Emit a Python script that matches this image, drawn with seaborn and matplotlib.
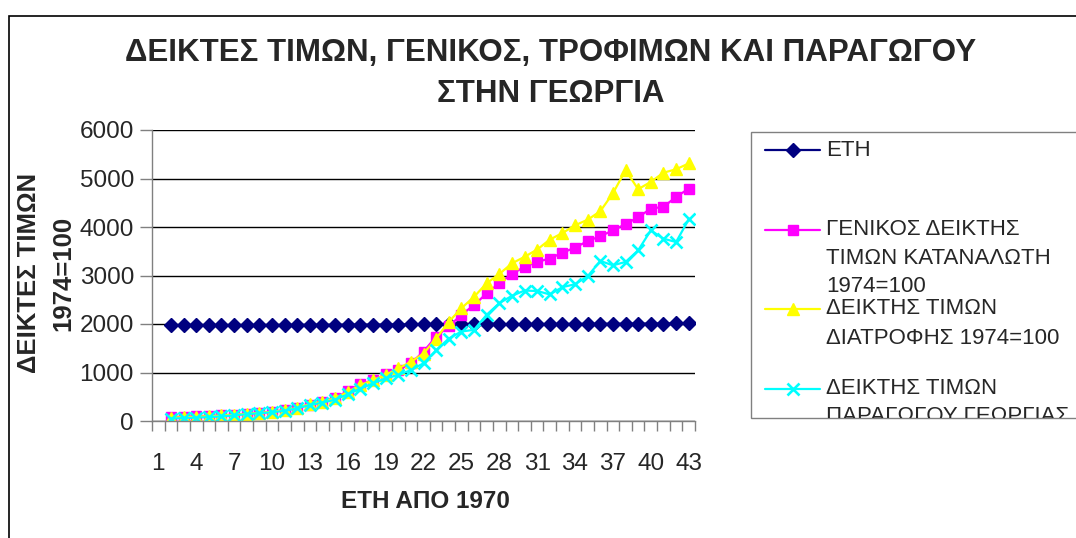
import numpy as np
import pandas as pd
import matplotlib
matplotlib.use("Agg")
import matplotlib.pyplot as plt
from matplotlib.patches import Rectangle
from matplotlib.lines import Line2D
import seaborn as sns

# ---------------- data ----------------
categories = list(range(2, 44))          # category positions on the axis (1..43)
tick_labels = [str(v) for v in range(1, 44, 3)]

years = list(range(1971, 2013))          # ΕΤΗ

cpi_general = [80, 88, 95, 100, 115, 130, 150, 170, 190, 225, 270, 340, 400, 480,
               610, 760, 840, 960, 1050, 1190, 1430, 1740, 1950, 2190, 2390, 2630,
               2840, 3030, 3180, 3280, 3350, 3470, 3575, 3710, 3810, 3930, 4060,
               4200, 4380, 4415, 4620, 4790]

cpi_food = [70, 80, 90, 100, 115, 130, 150, 170, 190, 225, 270, 350, 400, 470,
            600, 740, 845, 950, 1085, 1220, 1390, 1700, 2045, 2325, 2560, 2840,
            3030, 3250, 3385, 3535, 3740, 3875, 4035, 4150, 4325, 4695, 5170,
            4780, 4930, 5120, 5190, 5310]

ppi_agri = [50, 60, 70, 80, 95, 115, 140, 160, 180, 210, 260, 330, 380, 440,
            550, 670, 775, 880, 945, 1050, 1190, 1460, 1700, 1845, 1880, 2190,
            2430, 2580, 2690, 2680, 2610, 2760, 2820, 2985, 3300, 3210, 3280,
            3520, 3930, 3760, 3690, 4155]

series_names = ["ΕΤΗ",
                "ΓΕΝΙΚΟΣ ΔΕΙΚΤΗΣ ΤΙΜΩΝ ΚΑΤΑΝΑΛΩΤΗ 1974=100",
                "ΔΕΙΚΤΗΣ ΤΙΜΩΝ ΔΙΑΤΡΟΦΗΣ 1974=100",
                "ΔΕΙΚΤΗΣ ΤΙΜΩΝ ΠΑΡΑΓΩΓΟΥ ΓΕΩΡΓΙΑΣ"]
legend_lines = [["ΕΤΗ"],
                ["ΓΕΝΙΚΟΣ ΔΕΙΚΤΗΣ", "ΤΙΜΩΝ ΚΑΤΑΝΑΛΩΤΗ", "1974=100"],
                ["ΔΕΙΚΤΗΣ ΤΙΜΩΝ", "ΔΙΑΤΡΟΦΗΣ 1974=100"],
                ["ΔΕΙΚΤΗΣ ΤΙΜΩΝ", "ΠΑΡΑΓΩΓΟΥ ΓΕΩΡΓΙΑΣ"]]
title_lines = ["ΔΕΙΚΤΕΣ ΤΙΜΩΝ, ΓΕΝΙΚΟΣ, ΤΡΟΦΙΜΩΝ ΚΑΙ ΠΑΡΑΓΩΓΟΥ", "ΣΤΗΝ ΓΕΩΡΓΙΑ"]
xlabel = "ΕΤΗ ΑΠΟ 1970"
ylabel_lines = ["ΔΕΙΚΤΕΣ ΤΙΜΩΝ", "1974=100"]

# ---------------- style ----------------
sns.set_theme(style="white")
plt.rcParams["font.family"] = ["Liberation Sans", "DejaVu Sans"]

colors = ["#000080", "#FF00FF", "#FFFF00", "#00FFFF"]
markers = ["D", "s", "^", "x"]
msizes = [7.0, 7.4, 8.8, 9.0]

W, H = 1076, 538
fig = plt.figure(figsize=(W / 100, H / 100), dpi=100)
fx = lambda px: px / W
fy = lambda py: 1 - py / H

ax_l, ax_r, ax_t, ax_b = 152, 695, 130, 421
ax = fig.add_axes([fx(ax_l), fy(ax_b), fx(ax_r - ax_l), (ax_b - ax_t) / H])

df = pd.DataFrame({"cat": categories, series_names[0]: years,
                   series_names[1]: cpi_general, series_names[2]: cpi_food,
                   series_names[3]: ppi_agri})
for i, name in enumerate(series_names):
    kw = dict(marker=markers[i], markersize=msizes[i], markerfacecolor=colors[i],
              markeredgecolor=colors[i], linewidth=1.6)
    kw["markeredgewidth"] = 1.9 if markers[i] == "x" else 1
    sns.lineplot(data=df, x="cat", y=name, color=colors[i], ax=ax,
                 legend=False, **kw)

ax.set_xlim(0.5, 43.5)
ax.set_ylim(0, 6000)
ax.set_yticks(np.arange(0, 6001, 1000))
ax.set_yticklabels([str(v) for v in range(0, 6001, 1000)])
ax.set_xticks(list(range(1, 44, 3)))
ax.set_xticklabels(tick_labels)
ax.set_xticks(np.arange(0.5, 44, 1), minor=True)
ax.set_xlabel("")
ax.set_ylabel("")

ax.grid(False)
ax.yaxis.grid(True, color="black", linewidth=1)
ax.set_axisbelow(True)
for s in ["top", "right"]:
    ax.spines[s].set_visible(False)
for s in ["left", "bottom"]:
    ax.spines[s].set_color("#808080")
    ax.spines[s].set_linewidth(1)

ax.tick_params(axis="y", which="major", direction="out", length=9, width=1,
               color="#808080", labelsize=17.5, pad=4, left=True)
ax.tick_params(axis="x", which="major", length=0, labelsize=17.5, pad=23, bottom=True)
ax.tick_params(axis="x", which="minor", direction="out", length=7, width=1,
               color="#808080", bottom=True)

# titles / axis labels
fig.text(fx(551), fy(53), title_lines[0], ha="center", va="center",
         fontsize=22.5, fontweight="bold")
fig.text(fx(551), fy(94), title_lines[1], ha="center", va="center",
         fontsize=22.5, fontweight="bold")
fig.text(fx(425), fy(502), xlabel, ha="center", va="center",
         fontsize=17.5, fontweight="bold")
fig.text(fx(29), fy(273), ylabel_lines[0], ha="center", va="center", rotation=90,
         fontsize=18.5, fontweight="bold")
fig.text(fx(63), fy(273), ylabel_lines[1], ha="center", va="center", rotation=90,
         fontsize=18.5, fontweight="bold")

# outer chart border
fig.add_artist(Rectangle((fx(9), fy(560)), 1.2, (560 - 16) / H, fill=False,
                         edgecolor="black", linewidth=1.2,
                         transform=fig.transFigure))

# legend box (clipped at the right and bottom like the original)
lg_l, lg_t, lg_b = 751, 132, 418
box = Rectangle((fx(lg_l), fy(lg_b)), 1.0, (lg_b - lg_t) / H, facecolor="white",
                edgecolor="#808080", linewidth=1, transform=fig.transFigure)
fig.add_artist(box)
clip = Rectangle((fx(lg_l), fy(lg_b)), 1.0, (lg_b - lg_t) / H,
                 transform=fig.transFigure, visible=False)
fig.add_artist(clip)

entry_y = [[150], [230, 258, 287], [309, 338], [389, 417]]
for i in range(4):
    y0 = entry_y[i][0]
    ln = Line2D([fx(765), fx(820)], [fy(y0), fy(y0)], color=colors[i],
                linewidth=1.6, transform=fig.transFigure)
    fig.add_artist(ln)
    mk = Line2D([fx(792.5)], [fy(y0)], marker=markers[i], markersize=msizes[i],
                color=colors[i], markerfacecolor=colors[i],
                markeredgewidth=1.9 if markers[i] == "x" else 1,
                linestyle="none", transform=fig.transFigure)
    fig.add_artist(mk)
    for txt, yy in zip(legend_lines[i], entry_y[i]):
        t = fig.text(fx(826), fy(yy), txt, ha="left", va="center", fontsize=16)
        t.set_clip_path(clip)

fig.savefig("out.png", dpi=100, facecolor="white")
